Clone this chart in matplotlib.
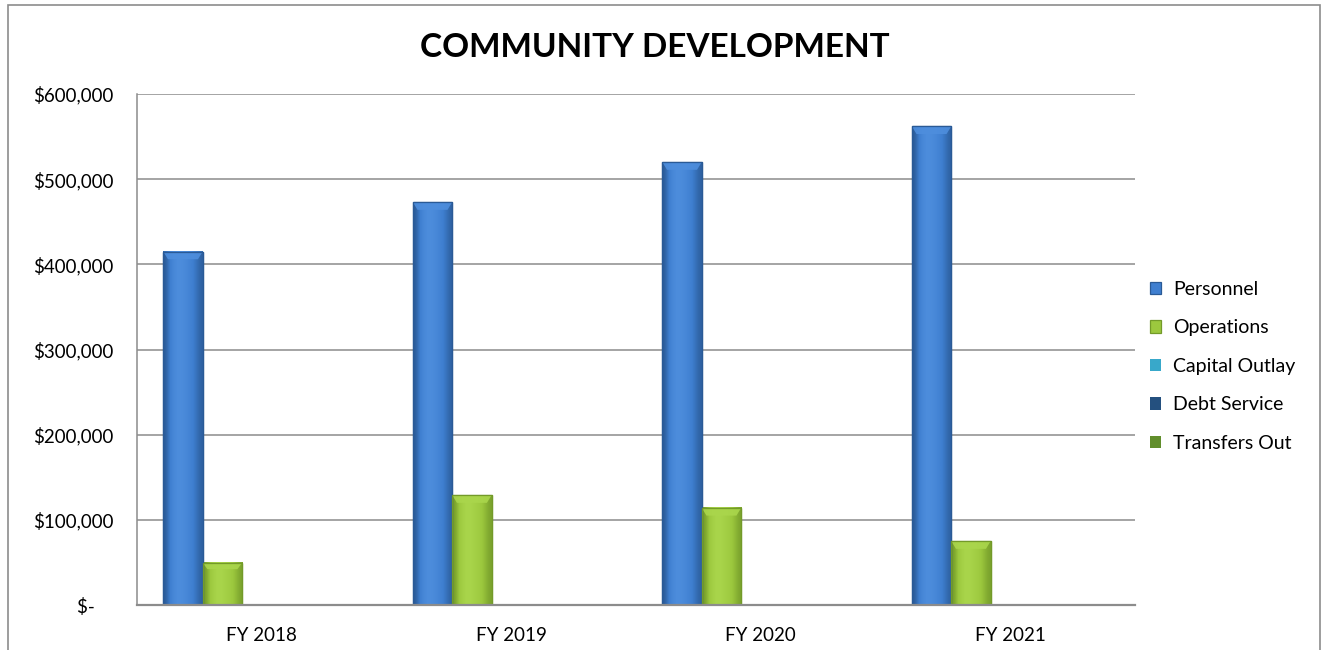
import numpy as np
import matplotlib.pyplot as plt
from matplotlib.patches import Rectangle
from matplotlib.colors import LinearSegmentedColormap
from matplotlib.ticker import FuncFormatter

years = ["FY 2018", "FY 2019", "FY 2020", "FY 2021"]
series = ["Personnel", "Operations", "Capital Outlay", "Debt Service", "Transfers Out"]
personnel = [415000, 473000, 520000, 562000]
operations = [49500, 129000, 114000, 75000]
capital_outlay = [0, 0, 0, 0]
debt_service = [0, 0, 0, 0]
transfers_out = [0, 0, 0, 0]

face = ["#3F7FD0", "#9CC83E", "#38A8CA", "#24507F", "#618E2C"]
light = ["#4E8EDD", "#AAD64C", "#4CBCDD", "#2F6294", "#72A236"]
edge = ["#2A5A96", "#739A29", "#237C98", "#14345A", "#41621B"]

plt.rcParams['font.family'] = ['Lato', 'DejaVu Sans']

fig = plt.figure(figsize=(13.23, 6.5), dpi=100)
ax = fig.add_axes([0.1036, 0.0692, 0.7544, 0.7862])

# chart frame
fig.patches.append(Rectangle((8 / 1323, -0.05), 1312 / 1323, 1.05 - 5 / 650,
                             transform=fig.transFigure, fill=False,
                             edgecolor="#8C8C8C", linewidth=1.2))

x = np.arange(len(years))
w = 0.158
values = [personnel, operations, capital_outlay, debt_service, transfers_out]
shade = np.array([[0.0, 0.45, 0.8, 1.0, 0.9, 0.75, 0.55, 0.35, 0.1]])
for i, (name, vals) in enumerate(zip(series, values)):
    pos = x + (i - 2) * w
    bars = ax.bar(pos, vals, width=w, color=face[i], edgecolor=edge[i],
                  linewidth=0.9, label=name, zorder=3)
    cmap = LinearSegmentedColormap.from_list(name, [edge[i], face[i], light[i]])
    for b in bars:
        h = b.get_height()
        if h <= 0:
            b.set_linewidth(0)
            continue
        x0, x1 = b.get_x(), b.get_x() + b.get_width()
        # shaded body of the bar
        ax.imshow(shade, cmap=cmap, vmin=0, vmax=1, aspect="auto",
                  extent=(x0, x1, 0, h), interpolation="bicubic",
                  clip_path=b, zorder=3.5)
        # bevelled top edge
        bev = min(9000, h * 0.15)
        ax.fill([x0, x1, x1 - w * 0.12, x0 + w * 0.12], [h, h, h - bev, h - bev],
                color=light[i], alpha=0.9, linewidth=0, zorder=3.6)
        ax.add_patch(Rectangle((x0, 0), x1 - x0, h, fill=False,
                               edgecolor=edge[i], linewidth=0.9, zorder=3.7))

ax.set_xlim(-0.5, 3.5)
ax.set_ylim(0, 600000)
ax.set_yticks(np.arange(0, 600001, 100000))
ax.yaxis.set_major_formatter(FuncFormatter(
    lambda v, p: "$-    " if v == 0 else "${:,.0f}".format(v)))
ax.set_xticks(x)
ax.set_xticklabels(years)
ax.tick_params(axis="both", length=0, labelsize=13.5, colors="black")
ax.tick_params(axis="y", pad=17)
ax.tick_params(axis="x", pad=16)

ax.grid(axis="y", color="#8C8C8C", linewidth=1.1, zorder=0)
for s in ["top", "right"]:
    ax.spines[s].set_visible(False)
ax.spines["left"].set_color("#8C8C8C")
ax.spines["bottom"].set_color("#8C8C8C")
ax.spines["bottom"].set_linewidth(1.6)
ax.spines["left"].set_linewidth(1.1)
ax.spines["bottom"].set_zorder(5)

fig.text(0.495, 0.927, "COMMUNITY DEVELOPMENT", ha="center", va="center",
         fontsize=24, fontweight="bold")

ax.legend(loc="center left", bbox_to_anchor=(0.997, 0.467), frameon=False,
          fontsize=14, handlelength=0.6, handleheight=0.6,
          labelspacing=1.1, handletextpad=0.6)

fig.savefig("out.png", dpi=100)
